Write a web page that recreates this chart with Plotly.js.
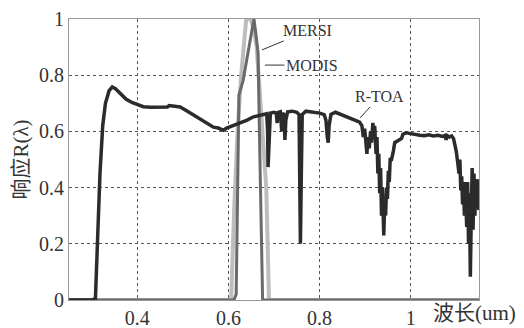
<!DOCTYPE html>
<html>
<head>
<meta charset="utf-8">
<script src="https://cdn.plot.ly/plotly-3.0.1.min.js"></script>
<style>html,body{margin:0;padding:0;background:#fff;}#chart{width:524px;height:328px;}</style>
</head>
<body>
<div id="chart"></div>
<script>
// R-TOA spectrum
var toaWl = [0.25,0.30,0.308,0.312,0.318,0.324,0.330,0.338,0.345,0.352,0.362,0.375,0.388,0.400,0.413,0.430,0.450,0.466,0.470,0.480,0.494,0.510,0.530,0.550,0.567,0.578,0.589,0.596,0.605,0.612,0.625,0.641,0.655,0.674,0.684,0.686,0.687,0.689,0.692,0.700,0.705,0.707,0.709,0.714,0.717,0.719,0.722,0.724,0.726,0.730,0.740,0.750,0.755,0.757,0.758,0.760,0.762,0.770,0.780,0.790,0.800,0.810,0.814,0.817,0.819,0.821,0.825,0.835,0.845,0.860,0.875,0.888,0.893,0.896,0.899,0.902,0.904,0.906,0.909,0.912,0.914,0.917,0.919,0.921,0.924,0.926,0.928,0.930,0.932,0.934,0.936,0.938,0.940,0.941,0.943,0.945,0.947,0.949,0.951,0.953,0.955,0.958,0.962,0.965,0.970,0.976,0.980,0.983,0.990,1.000,1.010,1.020,1.030,1.040,1.050,1.060,1.070,1.075,1.078,1.080,1.085,1.090,1.094,1.100,1.104,1.106,1.108,1.110,1.112,1.114,1.116,1.118,1.120,1.121,1.123,1.125,1.127,1.129,1.131,1.133,1.135,1.137,1.139,1.141,1.143,1.145,1.147,1.148,1.150];
var toaR = [0,0,0.005,0.2,0.45,0.62,0.70,0.745,0.758,0.752,0.735,0.715,0.703,0.697,0.688,0.686,0.686,0.687,0.692,0.689,0.687,0.672,0.652,0.632,0.615,0.612,0.604,0.612,0.617,0.622,0.630,0.640,0.652,0.660,0.663,0.60,0.473,0.55,0.665,0.668,0.665,0.63,0.668,0.670,0.60,0.665,0.66,0.57,0.64,0.67,0.672,0.668,0.66,0.35,0.20,0.45,0.66,0.672,0.670,0.668,0.665,0.660,0.64,0.58,0.56,0.62,0.66,0.668,0.662,0.652,0.642,0.633,0.62,0.58,0.61,0.55,0.52,0.58,0.54,0.60,0.56,0.63,0.59,0.62,0.52,0.58,0.45,0.52,0.38,0.47,0.30,0.40,0.27,0.23,0.35,0.30,0.40,0.36,0.46,0.42,0.50,0.50,0.53,0.56,0.565,0.57,0.575,0.59,0.595,0.592,0.588,0.586,0.585,0.588,0.584,0.586,0.582,0.585,0.57,0.585,0.58,0.584,0.575,0.53,0.48,0.45,0.50,0.39,0.44,0.34,0.40,0.30,0.42,0.36,0.26,0.42,0.20,0.38,0.083,0.30,0.47,0.25,0.45,0.30,0.40,0.33,0.43,0.34,0.32];
// MERSI spectral response
var mersiWl = [0.25,0.600,0.606,0.612,0.620,0.628,0.634,0.639,0.648,0.655,0.662,0.670,0.678,0.683,0.689,0.70,1.15];
var mersiR  = [0,0,0,0.30,0.60,0.80,0.93,1.00,1.00,0.97,0.90,0.70,0.50,0.40,0,0,0];
// MODIS spectral response
var modisWl = [0.25,0.612,0.617,0.621,0.623,0.632,0.640,0.650,0.656,0.660,0.665,0.668,0.672,0.675,0.69,1.15];
var modisR  = [0,0,0.02,0.60,0.73,0.78,0.85,0.95,1.00,0.95,0.88,0.60,0.20,0,0,0];

var xTicks = [0.4,0.6,0.8,1.0];
var xTickText = ['0.4','0.6','0.8','1'];
var yTicks = [0,0.2,0.4,0.6,0.8,1.0];
var yTickText = ['0','0.2','0.4','0.6','0.8','1'];

var serif = 'Liberation Serif, Times New Roman, serif';
var mixed = 'Liberation Serif, Noto Sans CJK SC, serif';

var traces = [
  {x: mersiWl, y: mersiR, mode:'lines', line:{color:'#bdbdbd', width:4}, name:'MERSI'},
  {x: modisWl, y: modisR, mode:'lines', line:{color:'#6a6a6a', width:3}, name:'MODIS'},
  {x: toaWl, y: toaR, mode:'lines', line:{color:'#2b2b2b', width:3.5}, name:'R-TOA'}
];

var layout = {
  width:524, height:328,
  margin:{l:69, r:45, t:19, b:28},
  paper_bgcolor:'#fff', plot_bgcolor:'#fff',
  showlegend:false,
  font:{family:serif, size:20, color:'#333'},
  xaxis:{range:[0.25,1.15], tickvals:xTicks, ticktext:xTickText, showgrid:true,
    gridcolor:'#555', griddash:'dot', gridwidth:1, zeroline:false,
    showline:true, mirror:true, linecolor:'#999', linewidth:1, ticks:'',
    tickfont:{family:serif, size:20, color:'#333'}},
  yaxis:{range:[0,1], tickvals:yTicks, ticktext:yTickText, showgrid:true,
    gridcolor:'#555', griddash:'dot', gridwidth:1, zeroline:false,
    showline:true, mirror:true, linecolor:'#999', linewidth:1, ticks:'',
    tickfont:{family:serif, size:20, color:'#333'},
    title:{text:'响应R(λ)', font:{family:mixed, size:21, color:'#333'}, standoff:4}},
  annotations:[
    {x:0.6736, y:0.89, xref:'x', yref:'y', text:'MERSI', showarrow:true, arrowhead:0, arrowwidth:1, arrowcolor:'#333', ax:46, ay:-19, font:{family:serif,size:16,color:'#333'}},
    {x:0.680, y:0.836, xref:'x', yref:'y', text:'MODIS', showarrow:true, arrowhead:0, arrowwidth:1, arrowcolor:'#333', ax:47, ay:0, font:{family:serif,size:16,color:'#333'}},
    {x:0.889, y:0.648, xref:'x', yref:'y', text:'R-TOA', showarrow:true, arrowhead:0, arrowwidth:1, arrowcolor:'#333', ax:19, ay:-21, font:{family:serif,size:16,color:'#333'}},
    {x:0.882, y:-0.046, xref:'paper', yref:'paper', xanchor:'left', yanchor:'middle', text:'波长(um)', showarrow:false, font:{family:mixed, size:21, color:'#333'}}
  ]
};

Plotly.newPlot('chart', traces, layout, {staticPlot:true, displayModeBar:false});
</script>
</body>
</html>
